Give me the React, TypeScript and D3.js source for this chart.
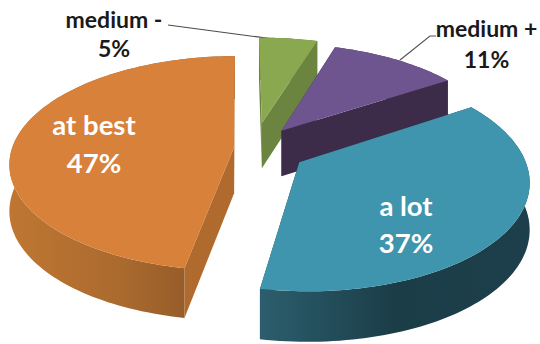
import React from "react";
import * as d3 from "d3";

// Slices listed clockwise from twelve o'clock.
const categories = ["medium -", "medium +", "a lot", "at best"];
const shares = [5, 11, 37, 47];
const explode = [0.25, 0.21, 0.24, 0.09];
const topColors = ["#8aa84f", "#6f5590", "#3f95ae", "#d8813b"];
const cutColors = ["#6b8540", "#3c2b49", "#1f4350", "#b06a2d"];
const wallStops = [
  ["#6b8540", "#6b8540"],
  ["#3c2b49", "#3c2b49"],
  ["#2c5e6d", "#1b3d48", "#1c3f4b"],
  ["#bf7632", "#aa6a2e", "#885225"],
];
const labelColors = ["#1a1a1a", "#1a1a1a", "#ffffff", "#ffffff"];
const labelAnchors = [
  [114, 28, 57, 23],
  [486.5, 37, 68, 23],
  [406, 216, 253, 27.5],
  [94, 135, 173, 27.5],
];

const WIDTH = 540;
const HEIGHT = 344;
const CX = 254;
const CY = 148;
const RX = 222;
const RY = 105;
const DEPTH = 46;
const PERSPECTIVE = 0.15;
const ROTATION = -0.01;

// Projects a point on the unit disc to the page; z is the drop below the top surface.
function project(X: number, Y: number, z = 0): [number, number] {
  const s = 1 / (1 + PERSPECTIVE * Y);
  return [CX + s * RX * X, CY - s * RY * Y + Math.sqrt(s) * z * DEPTH];
}

const pieLayout = d3
  .pie<number>()
  .sort(null)
  .startAngle(ROTATION)
  .endAngle(2 * Math.PI + ROTATION)
  .value((d) => d);
const arcs = pieLayout(shares);
const path = d3.line();

function sliceGeometry(i: number) {
  const a = arcs[i];
  const mid = (a.startAngle + a.endAngle) / 2;
  const ox = explode[i] * Math.sin(mid);
  const oy = explode[i] * Math.cos(mid);
  const n = Math.max(8, Math.round((a.endAngle - a.startAngle) * 40));
  const angles = d3.range(n + 1).map((k) => a.startAngle + ((a.endAngle - a.startAngle) * k) / n);
  const rim = (z: number) => angles.map((t) => project(ox + Math.sin(t), oy + Math.cos(t), z));
  const apex = (z: number) => project(ox, oy, z);
  return { rim, apex };
}

export default function App() {
  return (
    <svg
      width={WIDTH}
      height={HEIGHT}
      viewBox={`0 0 ${WIDTH} ${HEIGHT}`}
      style={{ position: "fixed", left: 0, top: 0, background: "#fff" }}
    >
      <defs>
        {categories.map((_, i) => {
          const xs = sliceGeometry(i).rim(1).map((p) => p[0]);
          const stops = wallStops[i];
          return (
            <linearGradient
              key={i}
              id={`wall-${i}`}
              gradientUnits="userSpaceOnUse"
              x1={d3.min(xs)}
              x2={d3.max(xs)}
              y1={0}
              y2={0}
            >
              {stops.map((c, k) => (
                <stop key={k} offset={k / (stops.length - 1)} stopColor={c} />
              ))}
            </linearGradient>
          );
        })}
      </defs>

      {/* Leader lines for the two outside labels */}
      <path d={path([[168, 25], [288, 41]]) ?? ""} fill="none" stroke="#4a4a4a" strokeWidth={1.2} />

      {categories.map((name, i) => {
        const { rim, apex } = sliceGeometry(i);
        const top = rim(0);
        const bottom = rim(1);
        const wall = [...top, ...[...bottom].reverse()] as [number, number][];
        const startFace = [apex(0), top[0], bottom[0], apex(1)] as [number, number][];
        const endFace = [
          apex(0),
          top[top.length - 1],
          bottom[bottom.length - 1],
          apex(1),
        ] as [number, number][];
        return (
          <g key={name}>
            <path d={(path(startFace) ?? "") + "Z"} fill={cutColors[i]} />
            <path d={(path(endFace) ?? "") + "Z"} fill={cutColors[i]} />
            <path d={(path(wall) ?? "") + "Z"} fill={`url(#wall-${i})`} />
            <path d={(path([apex(0), ...top]) ?? "") + "Z"} fill={topColors[i]} />
          </g>
        );
      })}

      <path d={path([[400, 60], [430, 36], [436, 36]]) ?? ""} fill="none" stroke="#555" strokeWidth={1.2} />

      {categories.map((name, i) => {
        const [x, y1, y2, size] = labelAnchors[i];
        return (
          <g
            key={name}
            fill={labelColors[i]}
            fontFamily="Lato, 'Open Sans', sans-serif"
            fontWeight={700}
            fontSize={size}
            textAnchor="middle"
          >
            <text x={x} y={y1}>{name}</text>
            <text x={x} y={y2}>{`${shares[i]}%`}</text>
          </g>
        );
      })}
    </svg>
  );
}
